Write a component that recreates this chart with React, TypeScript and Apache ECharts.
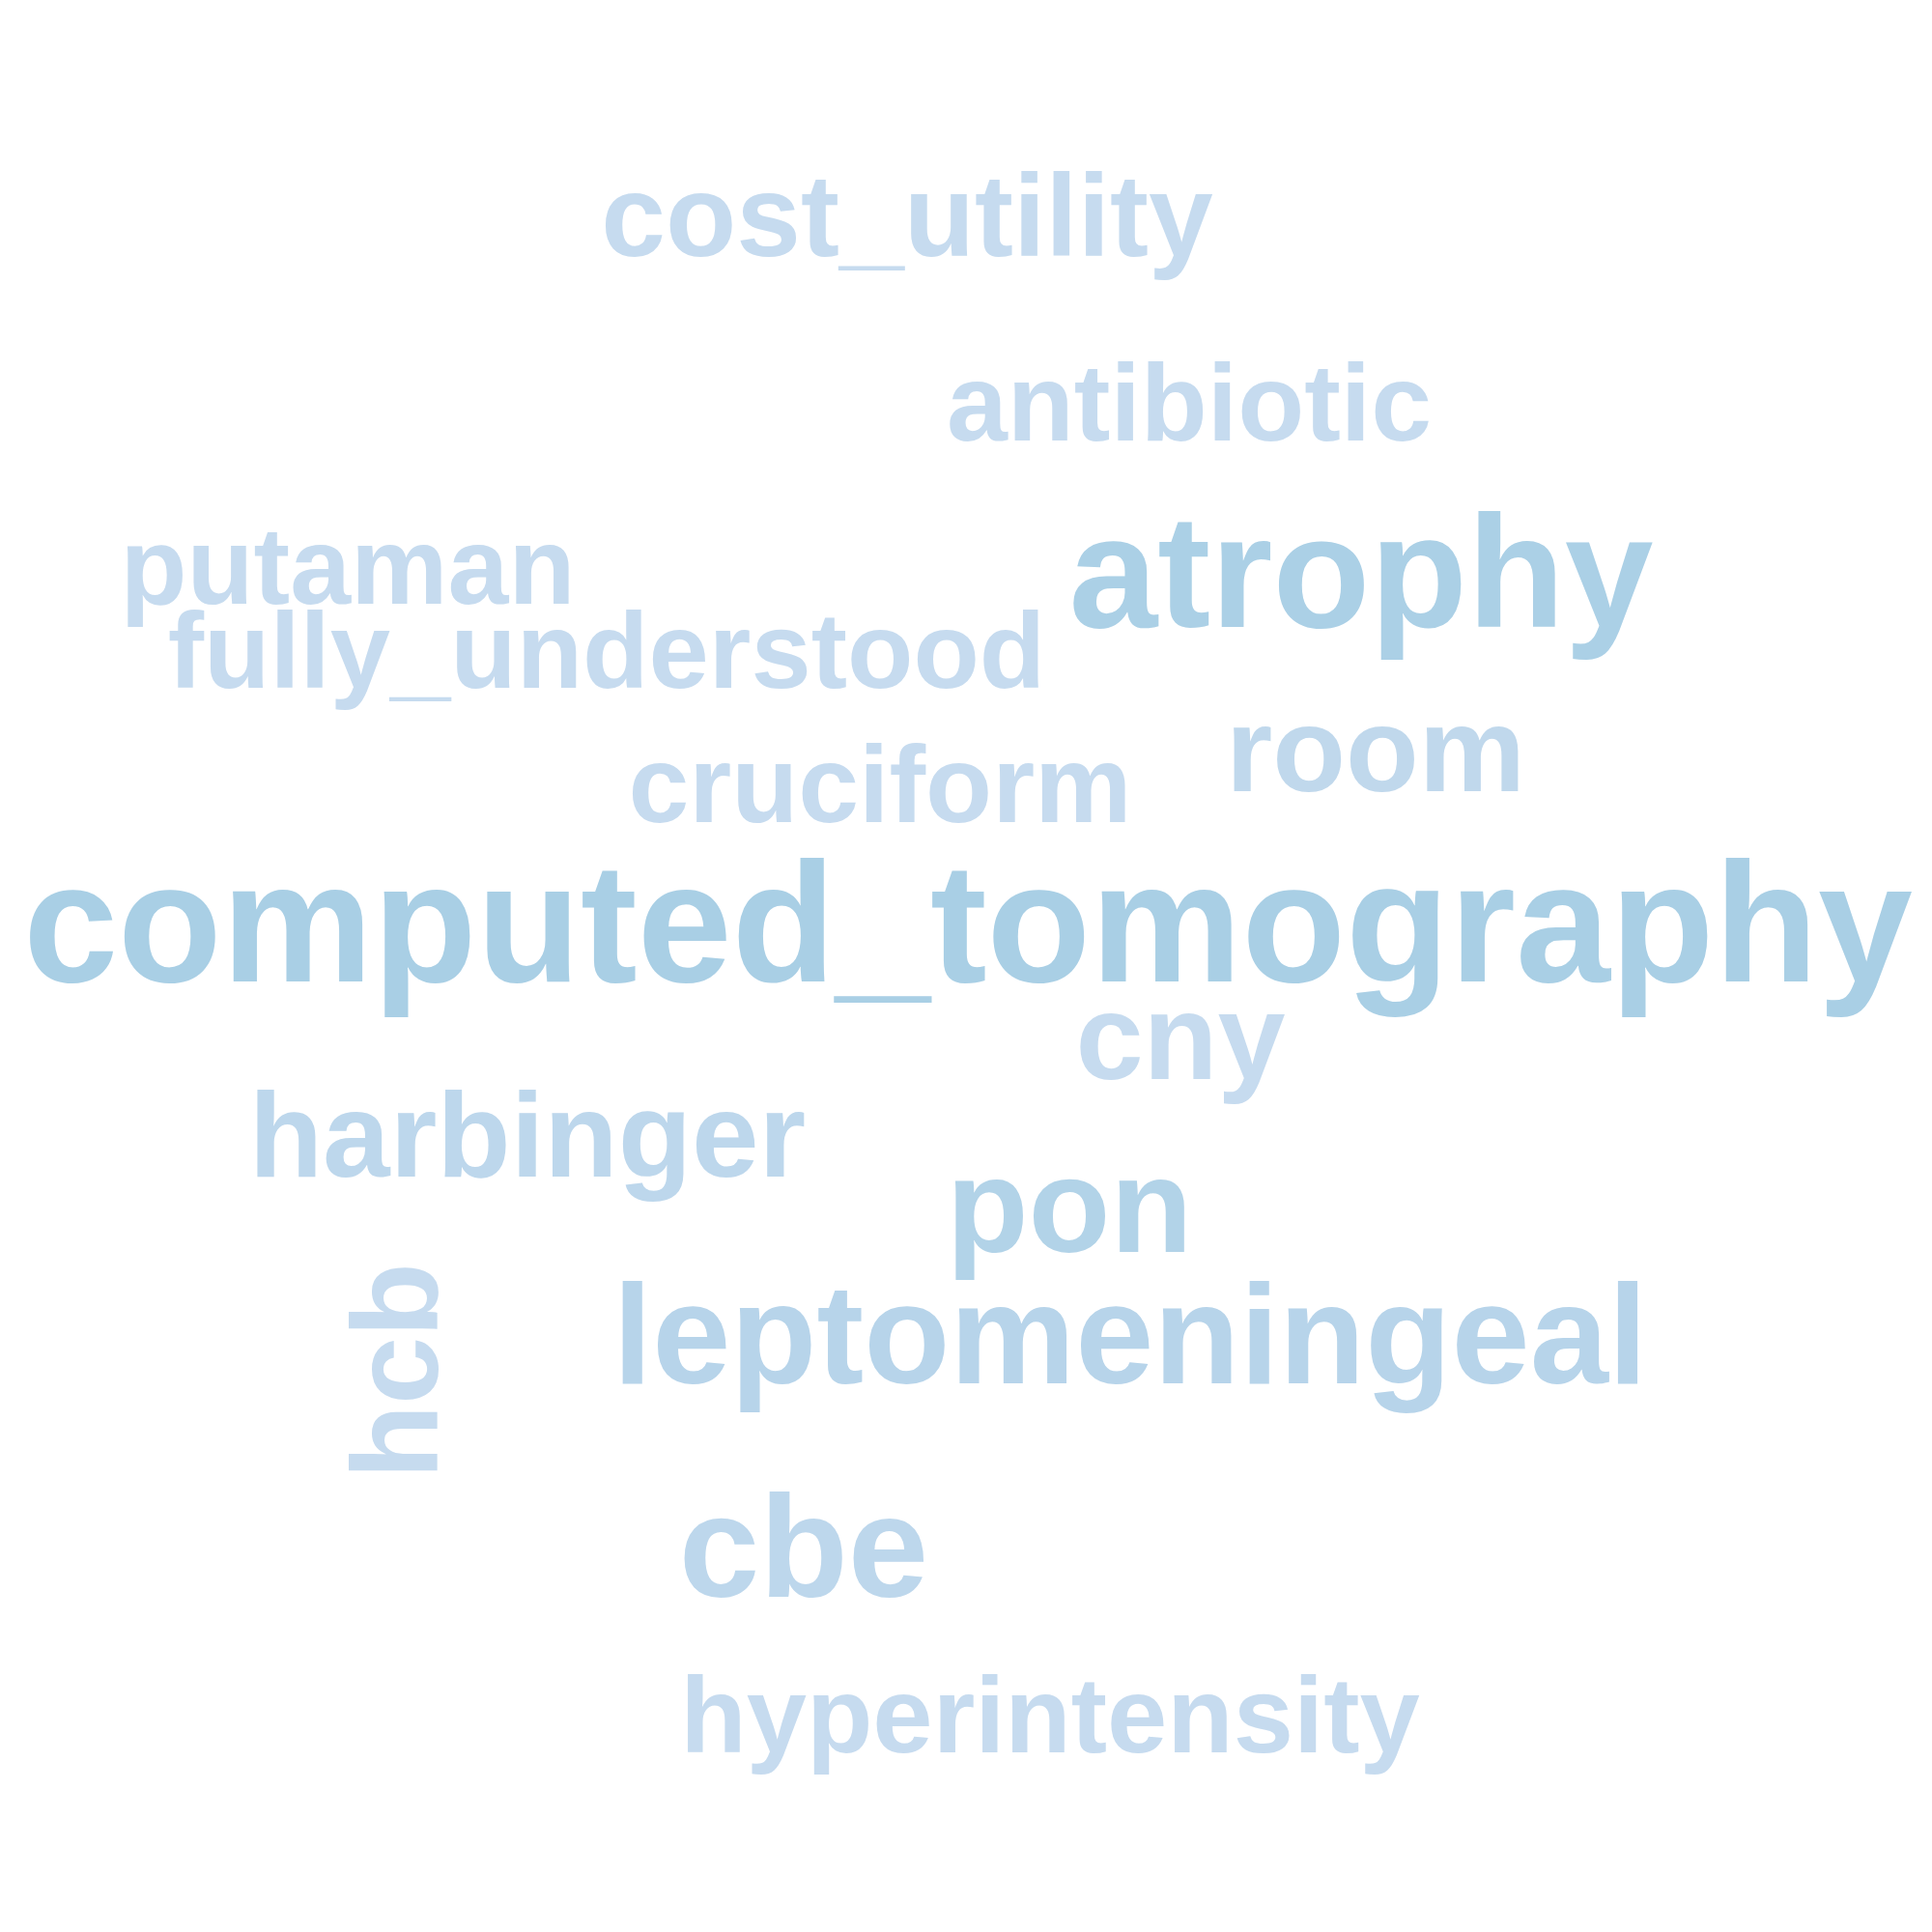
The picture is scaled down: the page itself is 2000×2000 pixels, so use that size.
import React, { useEffect, useRef } from 'react';
import * as echarts from 'echarts';

const words = ['cost_utility', 'antibiotic', 'atrophy', 'putaman', 'fully_understood', 'room', 'cruciform', 'computed_tomography', 'cny', 'harbinger', 'pon', 'leptomeningeal', 'hcb', 'cbe', 'hyperintensity'];
const xs = [939, 1231, 1409, 360, 628, 1424, 911, 1002, 1222, 546, 1107, 1170, 409, 832, 1087];
const ys = [223, 417, 592, 586, 673, 776, 812, 955, 1073, 1174, 1247, 1381, 1419, 1601, 1775];
const sizes = [120, 113, 165, 113, 112, 124, 113, 176, 126, 125, 139, 146, 126, 150, 112];
const rotations = [0, 0, 0, 0, 0, 0, 0, 0, 0, 0, 0, 0, 90, 0, 0];
const colors = ['#c6dbef', '#c6dbef', '#abd0e6', '#c6dbef', '#c6dbef', '#c0d8ec', '#c6dbef', '#a9cfe5', '#c6dbef', '#bdd7ec', '#b2d3e8', '#b7d4ea', '#c6dbef', '#bdd7ec', '#c6dbef'];

export default function App() {
  const chartRef = useRef<HTMLDivElement>(null);

  useEffect(() => {
    if (!chartRef.current) return;
    const chart = echarts.init(chartRef.current, null, { renderer: 'svg' });

    const data = words.map((w, i) => ({
      name: w,
      value: [xs[i], ys[i]],
      label: {
        fontSize: sizes[i],
        rotate: rotations[i],
        color: colors[i],
      },
    }));

    chart.setOption({
      animation: false,
      backgroundColor: '#ffffff',
      grid: { left: 0, right: 0, top: 0, bottom: 0 },
      xAxis: { type: 'value', min: 0, max: 2000, show: false },
      yAxis: { type: 'value', min: 0, max: 2000, inverse: true, show: false },
      series: [
        {
          type: 'scatter',
          symbolSize: 0,
          itemStyle: { opacity: 1 },
          data,
          label: {
            show: true,
            position: 'inside',
            formatter: (p: any) => p.name,
            fontFamily: 'Liberation Sans',
            fontWeight: 'bold',
          },
        },
      ],
    });

    return () => {
      chart.dispose();
    };
  }, []);

  return <div ref={chartRef} style={{ position: 'absolute', left: 0, top: 0, width: 2000, height: 2000 }} />;
}
